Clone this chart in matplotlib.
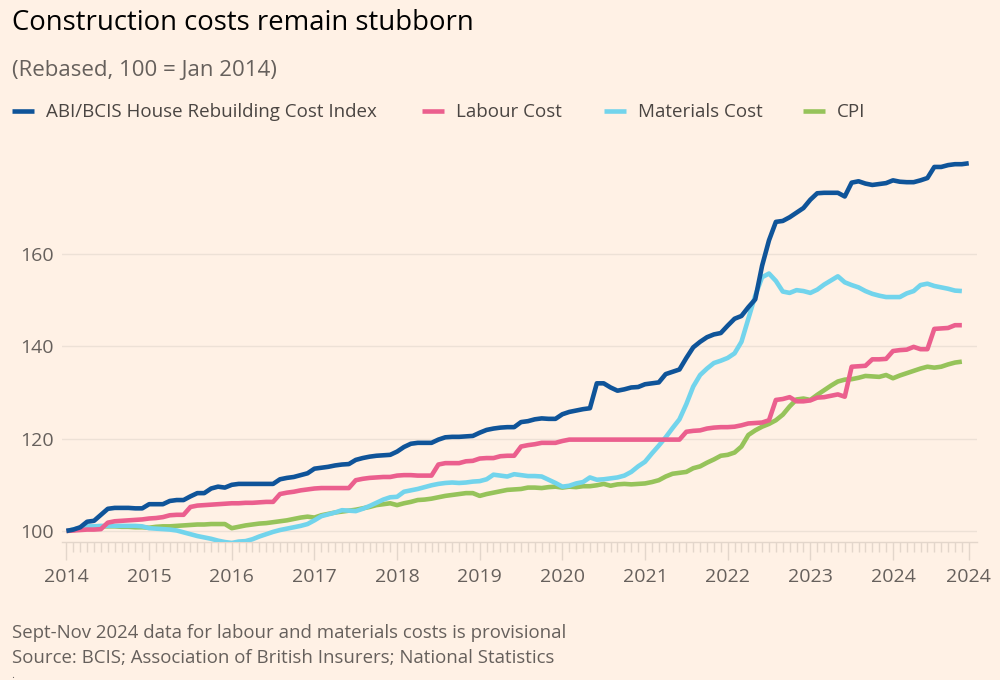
import numpy as np
import matplotlib
matplotlib.use("Agg")
import matplotlib.pyplot as plt
from matplotlib.lines import Line2D

# ---------------- data (monthly, Jan 2014 onwards, 100 = Jan 2014) ----------------
year_labels = [str(y) for y in range(2014, 2025)] + ["2024"]

abi = [100, 100.3, 100.8, 102, 102.2, 103.5, 104.8, 105, 105, 105, 104.9, 104.9,
       105.8, 105.8, 105.8, 106.5, 106.7, 106.7, 107.5, 108.2, 108.2, 109.2, 109.6, 109.4,
       110, 110.2, 110.2, 110.2, 110.2, 110.2, 110.2, 111.2, 111.5, 111.7, 112.1, 112.5,
       113.5, 113.7, 113.9, 114.2, 114.4, 114.5, 115.4, 115.8, 116.1, 116.3, 116.4, 116.5,
       117.2, 118.2, 118.9, 119.1, 119.1, 119.1, 119.8, 120.3, 120.4, 120.4, 120.5, 120.6,
       121.3, 121.9, 122.2, 122.4, 122.5, 122.5, 123.6, 123.8, 124.2, 124.4, 124.3, 124.3,
       125.3, 125.8, 126.1, 126.4, 126.6, 132, 132, 131.1, 130.4, 130.7, 131.1, 131.2,
       131.8, 132, 132.2, 134, 134.5, 135, 137.5, 139.8, 141, 142, 142.6, 142.9,
       144.5, 146, 146.6, 148.5, 150.2, 157.5, 163, 167, 167.2, 168, 169, 170,
       171.8, 173.2, 173.3, 173.3, 173.3, 172.5, 175.5, 175.8, 175.3, 175, 175.2, 175.4,
       176, 175.7, 175.6, 175.6, 176, 176.5, 178.9, 178.9, 179.3, 179.5, 179.5, 179.7]

labour = [100, 100.1, 100.2, 100.3, 100.3, 100.4, 101.8, 102.1, 102.2, 102.3, 102.4, 102.5,
          102.7, 102.8, 103, 103.4, 103.5, 103.5, 105.2, 105.5, 105.6, 105.7, 105.8, 105.9,
          106, 106, 106.1, 106.1, 106.2, 106.3, 106.3, 108, 108.3, 108.5, 108.8, 109,
          109.2, 109.3, 109.3, 109.3, 109.3, 109.3, 111, 111.3, 111.5, 111.6, 111.7, 111.7,
          112, 112.1, 112.1, 112, 112, 112, 114.4, 114.7, 114.7, 114.7, 115.1, 115.2,
          115.7, 115.8, 115.8, 116.2, 116.3, 116.3, 118.3, 118.6, 118.8, 119.1, 119.1, 119.1,
          119.5, 119.8, 119.8, 119.8, 119.8, 119.8, 119.8, 119.8, 119.8, 119.8, 119.8, 119.8,
          119.8, 119.8, 119.8, 119.8, 119.8, 119.8, 121.5, 121.7, 121.8, 122.2, 122.4, 122.5,
          122.5, 122.6, 122.9, 123.3, 123.4, 123.5, 124, 128.4, 128.6, 129, 128.1, 128.1,
          128.3, 128.9, 129, 129.3, 129.6, 129.1, 135.6, 135.7, 135.8, 137.2, 137.2, 137.3,
          139, 139.2, 139.3, 139.9, 139.4, 139.4, 143.8, 143.9, 144, 144.6, 144.6]

materials = [100, 100.3, 100.7, 101, 101, 101.1, 101.1, 101.1, 101.1, 101.1, 101.1, 101,
             100.6, 100.5, 100.4, 100.3, 100.1, 99.7, 99.3, 98.9, 98.6, 98.3, 97.9, 97.6,
             97.4, 97.7, 97.8, 98.2, 98.8, 99.3, 99.8, 100.2, 100.5, 100.8, 101.1, 101.5,
             102.3, 103.2, 103.6, 104, 104.5, 104.4, 104.3, 104.8, 105.4, 106.1, 106.8, 107.3,
             107.4, 108.5, 108.8, 109.1, 109.5, 109.9, 110.2, 110.4, 110.5, 110.4, 110.5, 110.7,
             110.8, 111.2, 112.2, 112, 111.8, 112.3, 112.1, 111.9, 111.9, 111.8, 111.1, 110.4,
             109.6, 109.8, 110.3, 110.6, 111.6, 111.1, 111.2, 111.4, 111.6, 112, 112.8, 114,
             115, 116.8, 118.5, 120.3, 122.3, 124.2, 127.5, 131.3, 133.8, 135.2, 136.4, 136.9,
             137.5, 138.5, 141, 146, 151, 155, 155.8, 154.2, 151.9, 151.6, 152.2, 152,
             151.6, 152.3, 153.4, 154.3, 155.2, 153.9, 153.3, 152.8, 152, 151.4, 151, 150.7,
             150.7, 150.7, 151.5, 152, 153.3, 153.6, 153.1, 152.8, 152.5, 152.1, 152]

cpi = [100, 100.2, 100.4, 100.6, 100.8, 101, 101, 101, 100.9, 100.9, 100.8, 100.8,
       100.7, 100.9, 101, 101, 101.1, 101.2, 101.3, 101.4, 101.4, 101.5, 101.5, 101.5,
       100.6, 100.9, 101.2, 101.4, 101.6, 101.7, 101.9, 102.1, 102.3, 102.6, 102.9, 103.1,
       102.9, 103.4, 103.7, 104, 104.2, 104.4, 104.6, 104.9, 105.2, 105.6, 105.8, 106,
       105.6, 106, 106.3, 106.7, 106.8, 107, 107.3, 107.6, 107.8, 108, 108.2, 108.2,
       107.6, 108, 108.3, 108.6, 108.9, 109, 109.1, 109.4, 109.4, 109.3, 109.5, 109.6,
       109.4, 109.6, 109.5, 109.7, 109.7, 109.9, 110.2, 109.8, 110.1, 110.2, 110.1, 110.2,
       110.3, 110.6, 111, 111.8, 112.4, 112.6, 112.8, 113.6, 114, 114.8, 115.5, 116.3,
       116.5, 117, 118.3, 120.8, 121.8, 122.6, 123.2, 124, 125.2, 127, 128.5, 128.7,
       128.4, 129.5, 130.5, 131.5, 132.4, 132.8, 132.9, 133.2, 133.6, 133.5, 133.4, 133.8,
       133.1, 133.7, 134.2, 134.7, 135.2, 135.6, 135.4, 135.6, 136.1, 136.5, 136.7]

names = ["ABI/BCIS House Rebuilding Cost Index", "Labour Cost", "Materials Cost", "CPI"]
y_ticks = [100, 120, 140, 160]

# ---------------- style ----------------
BG = "#FFF1E5"
C_ABI = "#0F5499"
C_LAB = "#EB5F8E"
C_MAT = "#72D4EC"
C_CPI = "#96C35A"
GRID = "#EDE1D6"
TICKC = "#E3D6CB"
TXT = "#66605C"
FONT = ["Open Sans", "DejaVu Sans"]

plt.rcParams["font.family"] = FONT

fig = plt.figure(figsize=(10, 6.8), dpi=100, facecolor=BG)
ax = fig.add_axes([0.062, 0.2029, 0.915, 0.5726])
ax.set_facecolor(BG)

lw = 3.3
series = [(cpi, C_CPI, 2), (materials, C_MAT, 3), (labour, C_LAB, 4), (abi, C_ABI, 5)]
for vals, col, z in series:
    x = np.arange(len(vals))
    ax.plot(x, vals, color=col, lw=lw, zorder=z, solid_joinstyle="round",
            solid_capstyle="butt")

ax.set_xlim(-0.65, 132.2)
ax.set_ylim(97.6, 182)

ax.set_yticks(y_ticks)
ax.set_yticklabels([str(v) for v in y_ticks])
ax.tick_params(axis="y", length=0, pad=6, labelsize=14, labelcolor=TXT)
for v in y_ticks:
    ax.axhline(v, color=GRID, lw=1.0, zorder=1)

major = list(range(0, 121, 12)) + [131]
ax.set_xticks(major)
ax.set_xticklabels(year_labels)
ax.set_xticks(np.arange(0, 132), minor=True)
ax.tick_params(axis="x", which="major", length=13, width=1.0, color=TICKC,
               pad=5.5, labelsize=14, labelcolor=TXT)
ax.tick_params(axis="x", which="minor", length=7, width=1.0, color=TICKC)

for s in ["top", "right", "left"]:
    ax.spines[s].set_visible(False)
ax.spines["bottom"].set_color(TICKC)
ax.spines["bottom"].set_linewidth(1.0)

# ---------------- texts ----------------
fig.text(0.012, 0.9559, "Construction costs remain stubborn", fontsize=19.8,
         color="#000000", ha="left", va="baseline")
fig.text(0.012, 0.888, "(Rebased, 100 = Jan 2014)", fontsize=16,
         color=TXT, ha="left", va="baseline")

# legend
leg_y_line = 1 - 111 / 680
leg_y_txt = 1 - 117 / 680
leg_items = [(names[0], C_ABI, 12), (names[1], C_LAB, 422),
             (names[2], C_MAT, 604), (names[3], C_CPI, 803)]
for label, col, px in leg_items:
    fig.add_artist(Line2D([px / 1000, (px + 22) / 1000], [leg_y_line, leg_y_line],
                          color=col, lw=3.3, solid_capstyle="butt"))
    fig.text((px + 34) / 1000, leg_y_txt, label, fontsize=13.5, color="#4A4542",
             ha="left", va="baseline")

fig.text(0.012, 1 - 638 / 680, "Sept-Nov 2024 data for labour and materials costs is provisional",
         fontsize=13.4, color=TXT, ha="left", va="baseline")
fig.text(0.012, 1 - 663 / 680, "Source: BCIS; Association of British Insurers; National Statistics",
         fontsize=13.4, color=TXT, ha="left", va="baseline")
fig.text(0.011, 1 - 678 / 680, ".", fontsize=8, color=TXT, ha="left", va="baseline")

fig.savefig("out.png", dpi=100, facecolor=BG)
